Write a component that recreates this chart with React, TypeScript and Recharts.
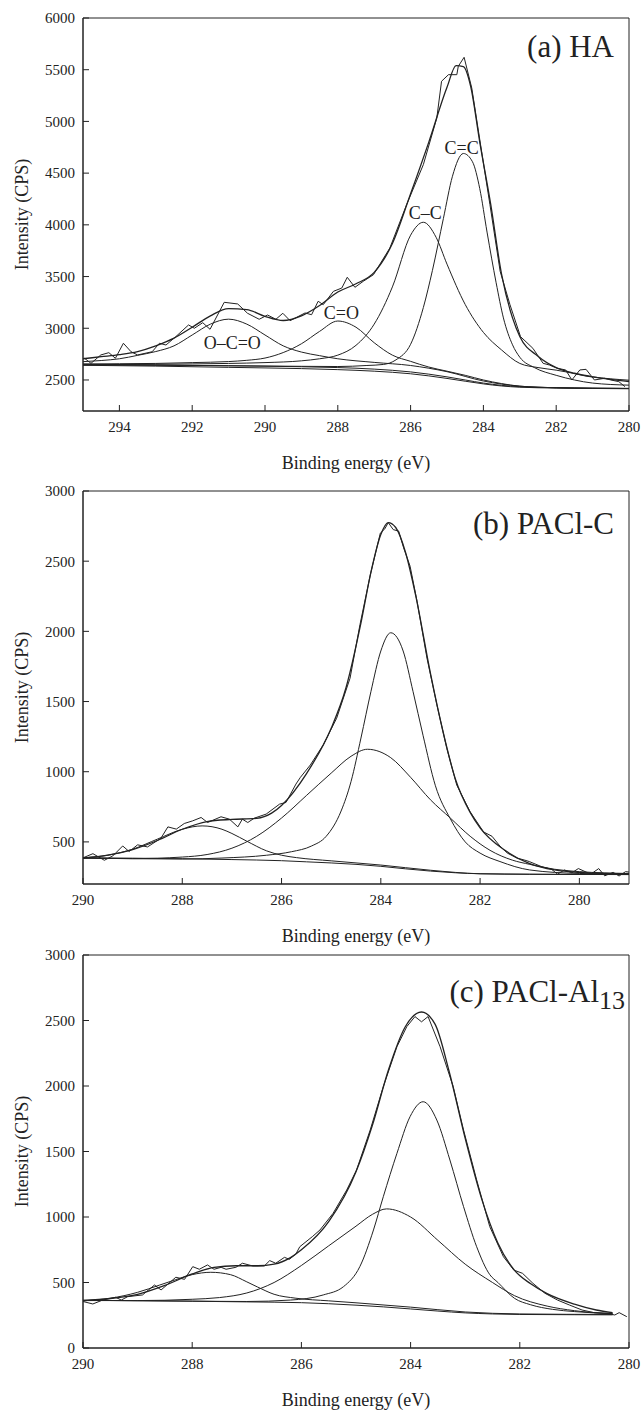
import { LineChart, Line, XAxis, YAxis, ReferenceArea, ReferenceDot } from "recharts"

type Pt = [number, number]

const FONT = "Liberation Serif, DejaVu Serif, serif"
const INK = "#222"

// ---- (a) HA ----
const haTicksX = [294, 292, 290, 288, 286, 284, 282, 280]
const haTicksY = [2500, 3000, 3500, 4000, 4500, 5000, 5500, 6000]
const haRaw: Pt[] = [
  [294.96, 2710], [294.78, 2661], [294.51, 2742], [294.29, 2764], [294.11, 2710], [293.89, 2855],
  [293.68, 2773], [293.5, 2742], [293.1, 2773], [292.9, 2855], [292.72, 2838], [292.45, 2919],
  [292.1, 3032], [291.94, 3000], [291.71, 3054], [291.51, 2990], [291.12, 3251], [290.75, 3235],
  [290.48, 3145], [290.16, 3087], [289.93, 3128], [289.7, 3087], [289.51, 3145], [289.31, 3073],
  [288.9, 3148], [288.72, 3131], [288.54, 3261], [288.4, 3228], [288.12, 3357], [287.89, 3389],
  [287.74, 3493], [287.53, 3396], [287.3, 3454], [287.02, 3518], [286.57, 3776], [286.11, 4195],
  [285.65, 4582], [285.28, 5033], [285.15, 5388], [284.96, 5452], [284.73, 5452], [284.69, 5533],
  [284.53, 5620], [284.32, 5323], [284.05, 4711], [283.82, 4195], [283.54, 3551], [283.27, 3228],
  [282.98, 2919], [282.64, 2806], [282.36, 2661], [282.19, 2645], [281.97, 2613], [281.74, 2597],
  [281.57, 2500], [281.35, 2597], [281.18, 2603], [280.95, 2500], [280.67, 2516], [280.5, 2500],
  [280.28, 2484], [280.11, 2435],
]
const haFit: Pt[] = [
  [295, 2705], [294.5, 2725], [294, 2745], [293.5, 2775], [293, 2830], [292.5, 2905], [292, 3010],
  [291.5, 3120], [291, 3190], [290.5, 3180], [290, 3115], [289.5, 3075], [289, 3120], [288.5, 3220],
  [288, 3350], [287.5, 3430], [287, 3540], [286.5, 3820], [286, 4300], [285.5, 4800], [285, 5330],
  [284.75, 5540], [284.55, 5530], [284.35, 5340], [284.1, 4800], [283.8, 4200], [283.5, 3520],
  [283.2, 3100], [283, 2920], [282.5, 2730], [282, 2620], [281.5, 2565], [281, 2530], [280.5, 2505],
  [280, 2485],
]
const haOCO: Pt[] = [
  [295, 2677], [294.5, 2688], [294, 2705], [293.5, 2738], [293, 2775], [292.5, 2830], [292, 2935],
  [291.5, 3040], [291, 3088], [290.5, 3040], [290, 2935], [289.5, 2830], [289, 2770], [288.5, 2735],
  [288, 2705], [287, 2670], [286, 2640], [285, 2580], [284, 2490], [283, 2440], [282, 2425],
  [281, 2420], [280, 2418],
]
const haCO: Pt[] = [
  [295, 2655], [294, 2657], [293, 2660], [292, 2668], [291, 2678], [290.5, 2690], [290, 2712],
  [289.5, 2765], [289, 2850], [288.5, 2970], [288, 3070], [287.5, 3010], [287, 2860], [286.5, 2740],
  [286, 2680], [285.5, 2625], [285, 2585], [284.5, 2545], [284, 2500], [283.5, 2465], [283, 2440],
  [282, 2425], [281, 2420], [280, 2418],
]
const haCsingle: Pt[] = [
  [295, 2648], [293, 2652], [291, 2660], [290, 2668], [289, 2685], [288.5, 2705], [288, 2740],
  [287.5, 2835], [287, 3040], [286.5, 3400], [286, 3900], [285.65, 4025], [285.3, 3880], [285, 3620],
  [284.5, 3230], [284, 2960], [283.5, 2790], [283, 2660], [282.5, 2620], [282, 2595], [281, 2530],
  [280, 2498],
]
const haCdouble: Pt[] = [
  [295, 2645], [291, 2638], [289, 2632], [288, 2630], [287.2, 2640], [286.75, 2650], [286.4, 2695],
  [286, 2845], [285.65, 3200], [285.4, 3560], [285.1, 4060], [284.85, 4470], [284.55, 4690],
  [284.3, 4610], [284.1, 4350], [283.9, 3930], [283.65, 3440], [283.45, 3100], [283.2, 2840],
  [283, 2720], [282.6, 2620], [282, 2545], [281.5, 2500], [281, 2470], [280, 2450],
]
const haBg1: Pt[] = [
  [295, 2652], [293, 2645], [291, 2637], [289, 2628], [288, 2620], [287, 2605], [286, 2578],
  [285, 2530], [284.5, 2500], [284, 2470], [283.5, 2448], [283, 2435], [282, 2425], [281, 2420],
  [280, 2418],
]
const haBg2: Pt[] = [
  [295, 2642], [293, 2634], [291, 2622], [289, 2610], [288, 2600], [287, 2585], [286, 2560],
  [285, 2515], [284.5, 2488], [284, 2462], [283.5, 2442], [283, 2430], [282, 2422], [281, 2418],
  [280, 2415],
]
const haLabels: [number, number, string][] = [
  [284.6, 4743, "C=C"], [285.6, 4114, "C\u2013C"], [287.9, 3147, "C=O"], [290.9, 2857, "O\u2013C=O"],
]

// ---- (b) PACl-C ----
const pcTicksX = [290, 288, 286, 284, 282, 280]
const pcTicksY = [500, 1000, 1500, 2000, 2500, 3000]
const pcRaw: Pt[] = [
  [289.99, 388], [289.8, 416], [289.57, 369], [289.4, 400], [289.2, 471], [289.07, 431], [288.9, 479],
  [288.7, 464], [288.43, 526], [288.29, 607], [288.12, 591], [287.96, 631], [287.79, 650], [287.62, 674],
  [287.49, 638], [287.22, 679], [287.05, 662], [286.88, 607], [286.79, 662], [286.68, 638], [286.55, 669],
  [286.31, 698], [286.04, 769], [285.91, 781], [285.71, 912], [285.62, 960], [285.42, 1048], [285.16, 1191],
  [284.89, 1381], [284.62, 1666], [284.42, 2048], [284.21, 2405], [284.01, 2700], [283.92, 2730],
  [283.85, 2775], [283.75, 2725], [283.64, 2714], [283.54, 2595], [283.41, 2464], [283.27, 2214],
  [283.07, 1809], [282.87, 1476], [282.67, 1166], [282.47, 905], [282.2, 714], [281.93, 571],
  [281.76, 540], [281.6, 470], [281.45, 420], [281.26, 385], [281.1, 370], [281.01, 360], [280.77, 325],
  [280.56, 305], [280.44, 270], [280.3, 300], [280.15, 280], [280.02, 310], [279.77, 270], [279.61, 310],
  [279.49, 258], [279.32, 283], [279.2, 257], [279.07, 288], [279.0, 285],
]
const pcFit: Pt[] = [
  [290, 385], [289.5, 405], [289, 445], [288.5, 510], [288, 590], [287.5, 645], [287, 660], [286.5, 668],
  [286.2, 705], [286, 760], [285.5, 985], [285, 1310], [284.7, 1600], [284.4, 2060], [284.2, 2420],
  [284, 2690], [283.85, 2775], [283.7, 2740], [283.5, 2560], [283.3, 2260], [283, 1700], [282.75, 1290],
  [282.5, 950], [282.2, 710], [282, 600], [281.5, 440], [281, 345], [280.5, 300], [280, 282],
  [279.5, 276], [279, 274],
]
const pcPeak1: Pt[] = [
  [290, 386], [289.5, 405], [289, 448], [288.5, 520], [288, 590], [287.6, 614], [287.2, 590], [287, 560],
  [286.7, 505], [286.3, 436], [286, 405], [285.7, 388], [285, 365], [284, 335], [283, 298], [282, 273],
  [281, 269], [279, 267],
]
const pcBroad: Pt[] = [
  [290, 384], [289, 381], [288, 392], [287.5, 410], [287, 455], [286.5, 540], [286, 670], [285.5, 830],
  [285, 990], [284.6, 1110], [284.27, 1160], [283.8, 1100], [283.4, 960], [283, 800], [282.6, 670],
  [282.2, 540], [281.8, 440], [281.35, 370], [281, 340], [280.5, 305], [280, 288], [279, 275],
]
const pcNarrow: Pt[] = [
  [290, 385], [288, 378], [287.2, 385], [286.3, 405], [285.8, 430], [285.4, 470], [285.1, 540],
  [284.8, 720], [284.6, 930], [284.4, 1240], [284.2, 1570], [284, 1860], [283.8, 1990], [283.55, 1860],
  [283.35, 1570], [283.15, 1260], [282.9, 900], [282.6, 665], [282.3, 500], [282, 420], [281.6, 360],
  [281, 300], [280, 275], [279, 270],
]
const pcBg: Pt[] = [
  [290, 387], [289, 384], [288, 380], [287, 374], [286, 366], [285.5, 358], [285, 350], [284.5, 340],
  [284, 326], [283.5, 308], [283, 292], [282.5, 280], [282, 273], [281, 270], [280, 268], [279, 268],
]

// ---- (c) PACl-Al13 ----
const alTicksX = [290, 288, 286, 284, 282, 280]
const alTicksY = [0, 500, 1000, 1500, 2000, 2500, 3000]
const alRaw: Pt[] = [
  [290, 355], [289.82, 336], [289.64, 366], [289.4, 387], [289.3, 366], [289.18, 392], [288.91, 405],
  [288.69, 481], [288.57, 443], [288.3, 540], [288.14, 524], [287.99, 621], [287.87, 601], [287.72, 634],
  [287.6, 601], [287.47, 616], [287.38, 601], [287.2, 616], [287.08, 647], [286.89, 626], [286.68, 626],
  [286.58, 667], [286.47, 647], [286.31, 692], [286.22, 677], [286.1, 718], [286.03, 773], [285.8, 850],
  [285.66, 901], [285.42, 1028], [285.17, 1206], [284.99, 1359], [284.74, 1664], [284.5, 1995],
  [284.25, 2300], [284.07, 2453], [283.92, 2530], [283.8, 2490], [283.68, 2530], [283.46, 2300],
  [283.22, 1995], [283.03, 1664], [282.79, 1283], [282.55, 926], [282.3, 697], [282.11, 595],
  [281.95, 570], [281.76, 494], [281.54, 418], [281.31, 366], [281.09, 328], [280.86, 290],
  [280.64, 270], [280.41, 264], [280.26, 252], [280.18, 270], [280.04, 239],
]
const alFit: Pt[] = [
  [290, 362], [289.5, 378], [289, 410], [288.5, 478], [288, 565], [287.6, 615], [287.2, 628], [286.8, 628],
  [286.5, 640], [286.2, 690], [286, 750], [285.5, 965], [285, 1345], [284.7, 1700], [284.4, 2130],
  [284.1, 2450], [283.8, 2565], [283.55, 2470], [283.3, 2120], [283, 1600], [282.7, 1140], [282.4, 800],
  [282.1, 595], [281.8, 490], [281.5, 415], [281, 335], [280.6, 290], [280.3, 270],
]
const alPeak1: Pt[] = [
  [290, 360], [289.5, 380], [289, 425], [288.6, 480], [288.3, 522], [288, 560], [287.66, 578],
  [287.3, 560], [287, 505], [286.8, 465], [286.5, 410], [286.1, 380], [285.5, 360], [285, 345],
  [284, 312], [283, 275], [282, 260], [280.3, 256],
]
const alBroad: Pt[] = [
  [290, 362], [289, 362], [288, 372], [287.5, 385], [287, 420], [286.5, 500], [286, 630],
  [285.5, 780], [285, 930], [284.7, 1020], [284.44, 1062], [284, 1000], [283.5, 822], [283, 640],
  [282.5, 500], [282.1, 400], [281.5, 320], [281, 285], [280.3, 262],
]
const alNarrow: Pt[] = [
  [290, 364], [288, 358], [287, 355], [286.2, 366], [285.6, 405], [285.23, 468], [284.93, 621],
  [284.68, 901], [284.5, 1155], [284.25, 1486], [284.01, 1766], [283.77, 1880], [283.52, 1740],
  [283.28, 1435], [283.03, 1079], [282.79, 773], [282.55, 560], [282.4, 500], [282.1, 380],
  [281.8, 330], [281.4, 295], [281, 278], [280.3, 262],
]
const alBg: Pt[] = [
  [290, 364], [289, 361], [288, 357], [287, 352], [286, 346], [285.5, 338], [285, 327], [284.5, 314],
  [284, 298], [283.5, 282], [283, 268], [282.5, 260], [282, 256], [281, 254], [280.3, 253],
]

const toRows = (pts: Pt[]) => pts.map(([e, v]) => ({ e, v }))

type PanelProps = {
  top: number
  xDomain: [number, number]
  yDomain: [number, number]
  xTicks: number[]
  yTicks: number[]
  raw: Pt[]
  fit: Pt[]
  parts: Pt[][]
  labels?: [number, number, string][]
}

function Panel({ top, xDomain, yDomain, xTicks, yTicks, raw, fit, parts, labels = [] }: PanelProps) {
  const tickStyle = { fontSize: 15, fill: INK, fontFamily: FONT }
  return (
    <div style={{ position: "absolute", left: 0, top }}>
      <LineChart width={643} height={478} margin={{ top: 18, right: 14, bottom: 0, left: 0 }}>
        <XAxis
          type="number"
          dataKey="e"
          domain={xDomain}
          reversed
          allowDataOverflow
          ticks={xTicks}
          height={67}
          tickSize={-6}
          tickMargin={16}
          tick={tickStyle}
          axisLine={{ stroke: INK }}
          tickLine={{ stroke: INK }}
          label={{
            value: "Binding energy (eV)",
            position: "insideBottom",
            offset: 9,
            fontSize: 18,
            fill: INK,
            fontFamily: FONT,
          }}
        />
        <YAxis
          type="number"
          domain={yDomain}
          allowDataOverflow
          ticks={yTicks}
          width={83}
          tickSize={-6}
          tickMargin={14}
          tick={tickStyle}
          axisLine={{ stroke: INK }}
          tickLine={{ stroke: INK }}
          label={{
            value: "Intensity (CPS)",
            angle: -90,
            position: "insideLeft",
            offset: 22,
            fontSize: 18,
            fill: INK,
            fontFamily: FONT,
            style: { textAnchor: "middle" },
          }}
        />
        <ReferenceArea
          x1={xDomain[0]}
          x2={xDomain[1]}
          y1={yDomain[0]}
          y2={yDomain[1]}
          fill="none"
          stroke={INK}
          strokeWidth={1}
          ifOverflow="visible"
        />
        {parts.map((p, i) => (
          <Line
            key={i}
            data={toRows(p)}
            dataKey="v"
            type="monotone"
            stroke={INK}
            strokeWidth={1}
            dot={false}
            isAnimationActive={false}
          />
        ))}
        <Line data={toRows(fit)} dataKey="v" type="monotone" stroke={INK} strokeWidth={1.3} dot={false} isAnimationActive={false} />
        <Line data={toRows(raw)} dataKey="v" type="linear" stroke={INK} strokeWidth={1} dot={false} isAnimationActive={false} />
        {labels.map(([e, v, text]) => (
          <ReferenceDot
            key={text}
            x={e}
            y={v}
            r={0}
            stroke="none"
            label={{ value: text, position: "center", fontSize: 18, fill: INK, fontFamily: FONT }}
          />
        ))}
      </LineChart>
    </div>
  )
}

const titleStyle = {
  position: "absolute" as const,
  right: 29,
  fontFamily: FONT,
  fontSize: 31,
  lineHeight: 1,
  color: INK,
  whiteSpace: "nowrap" as const,
}

export default function App() {
  return (
    <div style={{ position: "absolute", left: 0, top: 0, width: 643, height: 1410, background: "#fff", fontFamily: FONT }}>
      <Panel
        top={0}
        xDomain={[280, 295]}
        yDomain={[2200, 6000]}
        xTicks={haTicksX}
        yTicks={haTicksY}
        raw={haRaw}
        fit={haFit}
        parts={[haBg1, haBg2, haOCO, haCO, haCsingle, haCdouble]}
        labels={haLabels}
      />
      <Panel
        top={473}
        xDomain={[279, 290]}
        yDomain={[200, 3000]}
        xTicks={pcTicksX}
        yTicks={pcTicksY}
        raw={pcRaw}
        fit={pcFit}
        parts={[pcBg, pcPeak1, pcBroad, pcNarrow]}
      />
      <Panel
        top={937}
        xDomain={[280, 290]}
        yDomain={[0, 3000]}
        xTicks={alTicksX}
        yTicks={alTicksY}
        raw={alRaw}
        fit={alFit}
        parts={[alBg, alPeak1, alBroad, alNarrow]}
      />
      <div style={{ ...titleStyle, top: 31 }}>(a) HA</div>
      <div style={{ ...titleStyle, top: 508 }}>(b) PACl-C</div>
      <div style={{ ...titleStyle, top: 976, right: 18 }}>
        (c) PACl-Al<span style={{ fontSize: 26, position: "relative", top: 7 }}>13</span>
      </div>
    </div>
  )
}
